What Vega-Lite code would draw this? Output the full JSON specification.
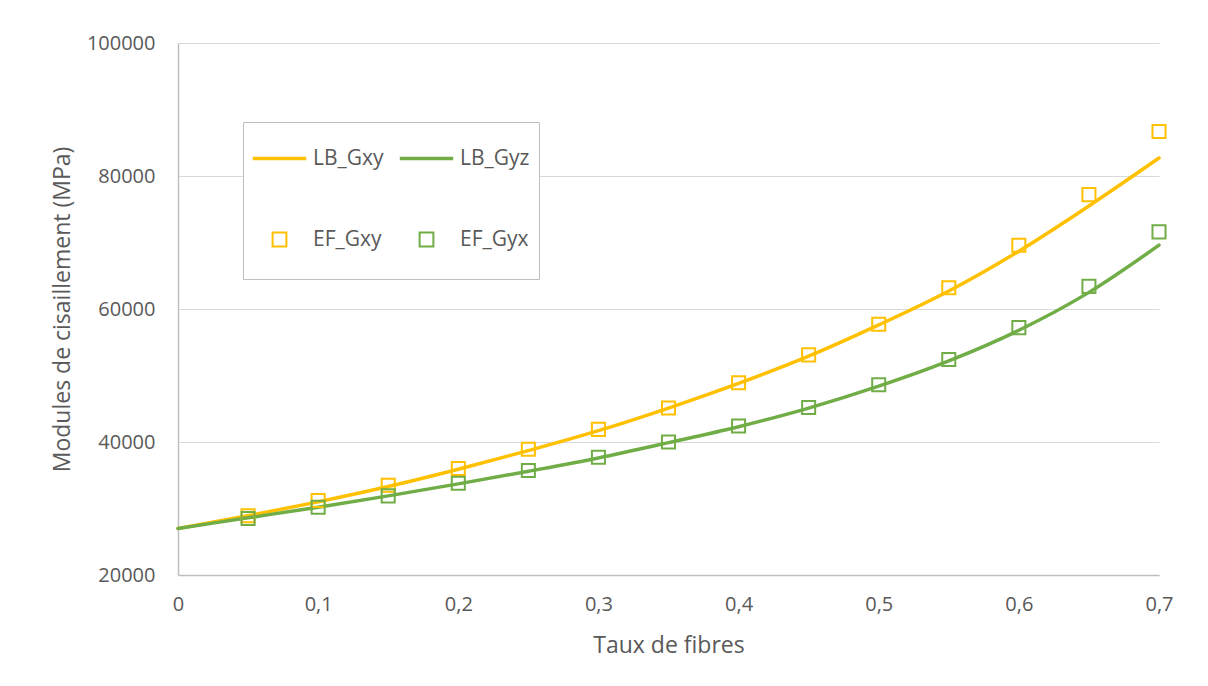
{
  "$schema": "https://vega.github.io/schema/vega-lite/v6.json",
  "width": 981,
  "height": 532,
  "autosize": {"type": "none"},
  "padding": {"left": 178, "top": 43, "right": 49, "bottom": 111},
  "background": "white",
  "config": {
    "view": {"stroke": null},
    "font": "Open Sans",
    "axis": {"labelFont": "Open Sans", "titleFont": "Open Sans", "labelColor": "#595959", "titleColor": "#595959", "titleFontWeight": "normal"},
    "legend": {"labelFont": "Open Sans"}
  },
  "data": {
    "values": [
      {"x": 0.0, "value": 27000, "series": "LB_Gxy"},
      {"x": 0.05, "value": 28900, "series": "LB_Gxy"},
      {"x": 0.1, "value": 31000, "series": "LB_Gxy"},
      {"x": 0.15, "value": 33300, "series": "LB_Gxy"},
      {"x": 0.2, "value": 35900, "series": "LB_Gxy"},
      {"x": 0.25, "value": 38700, "series": "LB_Gxy"},
      {"x": 0.3, "value": 41700, "series": "LB_Gxy"},
      {"x": 0.35, "value": 45100, "series": "LB_Gxy"},
      {"x": 0.4, "value": 48800, "series": "LB_Gxy"},
      {"x": 0.45, "value": 52900, "series": "LB_Gxy"},
      {"x": 0.5, "value": 57600, "series": "LB_Gxy"},
      {"x": 0.55, "value": 62700, "series": "LB_Gxy"},
      {"x": 0.6, "value": 68700, "series": "LB_Gxy"},
      {"x": 0.65, "value": 75500, "series": "LB_Gxy"},
      {"x": 0.7, "value": 82700, "series": "LB_Gxy"},
      {"x": 0.0, "value": 27000, "series": "LB_Gyz"},
      {"x": 0.05, "value": 28600, "series": "LB_Gyz"},
      {"x": 0.1, "value": 30200, "series": "LB_Gyz"},
      {"x": 0.15, "value": 31900, "series": "LB_Gyz"},
      {"x": 0.2, "value": 33700, "series": "LB_Gyz"},
      {"x": 0.25, "value": 35600, "series": "LB_Gyz"},
      {"x": 0.3, "value": 37600, "series": "LB_Gyz"},
      {"x": 0.35, "value": 39900, "series": "LB_Gyz"},
      {"x": 0.4, "value": 42300, "series": "LB_Gyz"},
      {"x": 0.45, "value": 45100, "series": "LB_Gyz"},
      {"x": 0.5, "value": 48400, "series": "LB_Gyz"},
      {"x": 0.55, "value": 52200, "series": "LB_Gyz"},
      {"x": 0.6, "value": 56800, "series": "LB_Gyz"},
      {"x": 0.65, "value": 62500, "series": "LB_Gyz"},
      {"x": 0.7, "value": 69600, "series": "LB_Gyz"},
      {"x": 0.05, "value": 28900, "series": "EF_Gxy"},
      {"x": 0.1, "value": 31200, "series": "EF_Gxy"},
      {"x": 0.15, "value": 33500, "series": "EF_Gxy"},
      {"x": 0.2, "value": 36000, "series": "EF_Gxy"},
      {"x": 0.25, "value": 38900, "series": "EF_Gxy"},
      {"x": 0.3, "value": 41900, "series": "EF_Gxy"},
      {"x": 0.35, "value": 45100, "series": "EF_Gxy"},
      {"x": 0.4, "value": 48900, "series": "EF_Gxy"},
      {"x": 0.45, "value": 53100, "series": "EF_Gxy"},
      {"x": 0.5, "value": 57700, "series": "EF_Gxy"},
      {"x": 0.55, "value": 63200, "series": "EF_Gxy"},
      {"x": 0.6, "value": 69600, "series": "EF_Gxy"},
      {"x": 0.65, "value": 77200, "series": "EF_Gxy"},
      {"x": 0.7, "value": 86700, "series": "EF_Gxy"},
      {"x": 0.05, "value": 28500, "series": "EF_Gyx"},
      {"x": 0.1, "value": 30200, "series": "EF_Gyx"},
      {"x": 0.15, "value": 31900, "series": "EF_Gyx"},
      {"x": 0.2, "value": 33800, "series": "EF_Gyx"},
      {"x": 0.25, "value": 35700, "series": "EF_Gyx"},
      {"x": 0.3, "value": 37700, "series": "EF_Gyx"},
      {"x": 0.35, "value": 40000, "series": "EF_Gyx"},
      {"x": 0.4, "value": 42400, "series": "EF_Gyx"},
      {"x": 0.45, "value": 45200, "series": "EF_Gyx"},
      {"x": 0.5, "value": 48600, "series": "EF_Gyx"},
      {"x": 0.55, "value": 52400, "series": "EF_Gyx"},
      {"x": 0.6, "value": 57200, "series": "EF_Gyx"},
      {"x": 0.65, "value": 63400, "series": "EF_Gyx"},
      {"x": 0.7, "value": 71600, "series": "EF_Gyx"}
    ]
  },
  "encoding": {
    "x": {
      "field": "x",
      "type": "quantitative",
      "scale": {"domain": [0, 0.7], "nice": false, "zero": false},
      "axis": {
        "title": "Taux de fibres",
        "values": [0, 0.1, 0.2, 0.3, 0.4, 0.5, 0.6, 0.7],
        "labelExpr": "datum.value == 0 ? '0' : replace(format(datum.value, '.1f'), '.', ',')",
        "grid": false,
        "ticks": false,
        "domainColor": "#bfbfbf",
        "domainWidth": 1.5,
        "labelFontSize": 20,
        "labelPadding": 19,
        "labelFlush": false,
        "titleFontSize": 23,
        "titlePadding": 20
      }
    },
    "y": {
      "field": "value",
      "type": "quantitative",
      "scale": {"domain": [20000, 100000], "nice": false, "zero": false},
      "axis": {
        "title": "Modules de cisaillement (MPa)",
        "values": [20000, 40000, 60000, 80000, 100000],
        "format": "d",
        "grid": true,
        "gridColor": "#d9d9d9",
        "gridWidth": 1.2,
        "ticks": false,
        "domainColor": "#bfbfbf",
        "domainWidth": 1.5,
        "labelFontSize": 20,
        "labelPadding": 23,
        "titleFontSize": 23,
        "titlePadding": 12
      }
    },
    "color": {
      "field": "series",
      "type": "nominal",
      "scale": {
        "domain": ["LB_Gxy", "EF_Gxy", "LB_Gyz", "EF_Gyx"],
        "range": ["#FFC000", "#FFC000", "#70AD47", "#70AD47"]
      },
      "legend": {
        "title": null,
        "orient": "none",
        "legendX": 65,
        "legendY": 79,
        "columns": 2,
        "padding": 9,
        "strokeColor": "#bfbfbf",
        "fillColor": "white",
        "labelFontSize": 21,
        "labelColor": "#595959",
        "labelOffset": 6,
        "columnPadding": 12,
        "rowPadding": 20,
        "encode": {
          "symbols": {
            "update": {
              "shape": {"signal": "indexof(['LB_Gxy','LB_Gyz'], datum.value) >= 0 ? 'M-0.97,-0.03H0.97V0.03H-0.97ZM0,-1M0,1' : 'M-0.26,-0.26H0.26V0.26H-0.26ZM0,-1M0,1'"},
              "size": {"value": 2809},
              "strokeWidth": {"value": 2},
              "fill": {"signal": "indexof(['LB_Gxy','LB_Gyz'], datum.value) >= 0 ? scale('color', datum.value) : 'transparent'"},
              "stroke": {"signal": "scale('color', datum.value)"},
              "opacity": {"value": 1}
            }
          }
        }
      }
    }
  },
  "layer": [
    {
      "transform": [{"filter": "indexof(['LB_Gxy','LB_Gyz'], datum.series) >= 0"}],
      "mark": {"type": "line", "interpolate": "monotone", "strokeWidth": 3.5, "strokeCap": "round"}
    },
    {
      "transform": [{"filter": "indexof(['EF_Gxy','EF_Gyx'], datum.series) >= 0"}],
      "mark": {"type": "point", "shape": "square", "filled": false, "size": 170, "strokeWidth": 2, "opacity": 1}
    }
  ]
}
